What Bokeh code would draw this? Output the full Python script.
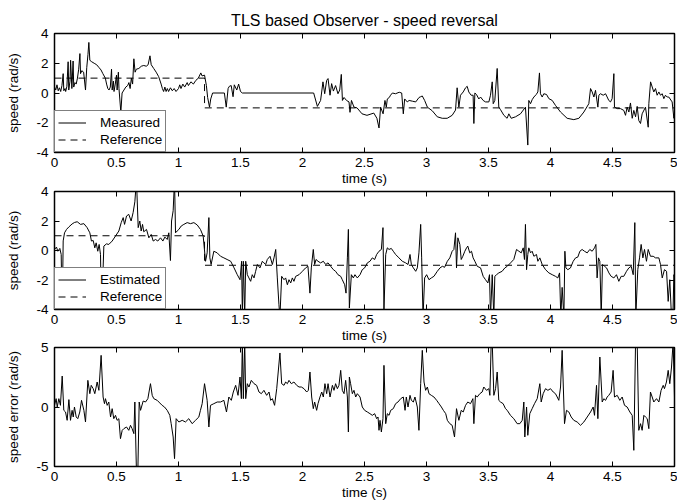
from bokeh.plotting import figure
from bokeh.layouts import column
from bokeh.models import (Range1d, LinearAxis, FixedTicker, NumeralTickFormatter, CustomJSTickFormatter,
                          Legend, LegendItem)
from bokeh.embed import file_html
from bokeh.resources import INLINE

FONT = "Liberation Sans"

title_text = "TLS based Observer - speed reversal"
x_label = "time (s)"
y_label_speed = "speed (rad/s)"
y_label_err = "speed error (rad/s)"
x_ticks = [0, 0.5, 1, 1.5, 2, 2.5, 3, 3.5, 4, 4.5, 5]
y_ticks_speed = [-4, -2, 0, 2, 4]
y_ticks_err = [-5, 0, 5]

# reference speed (step reversal)
ref_t = [0, 1.21, 1.21, 5]
ref_v = [1, 1, -1, -1]

# measured speed (t, rad/s)
measured = [
    (0.00, 0.40), (0.01, 0.20), (0.02, 0.55), (0.03, 0.15), (0.04, 0.35), (0.05, 0.10), (0.06, 0.50),
    (0.07, 1.30), (0.075, 0.15), (0.085, 0.30), (0.09, 0.10), (0.10, 0.45), (0.11, 2.10), (0.115, 0.20),
    (0.125, 0.80), (0.13, 2.20), (0.14, 0.30), (0.15, 2.15), (0.155, 0.40), (0.165, 0.70), (0.175, 0.60),
    (0.185, 1.00), (0.195, 1.60), (0.205, 2.65), (0.21, 1.30), (0.22, 1.50), (0.235, 1.40), (0.25, 0.20),
    (0.26, 1.70), (0.27, 2.60), (0.277, 3.40), (0.285, 2.20), (0.30, 2.10), (0.32, 2.00), (0.34, 1.90),
    (0.36, 1.70), (0.375, 1.55), (0.39, 1.30), (0.41, 1.00), (0.42, 0.60), (0.43, 0.30), (0.44, 0.20),
    (0.45, 0.40), (0.46, 1.60), (0.465, 0.20), (0.475, 0.80), (0.48, 0.10), (0.49, 0.60), (0.50, 1.20),
    (0.505, 0.20), (0.515, 1.40), (0.52, 0.30), (0.535, -1.30), (0.545, 0.00), (0.56, 0.20), (0.575, 0.40),
    (0.59, 0.50), (0.60, 0.70), (0.61, 0.30), (0.62, 1.00), (0.63, 0.60), (0.64, 2.30), (0.65, 1.40),
    (0.66, 1.60), (0.68, 1.65), (0.70, 1.80), (0.72, 1.85), (0.74, 1.80), (0.755, 1.90), (0.77, 2.50),
    (0.78, 1.90), (0.80, 1.65), (0.82, 1.40), (0.84, 1.10), (0.86, 0.60), (0.87, 0.30), (0.88, 0.10),
    (0.89, 0.40), (0.90, 0.10), (0.91, 0.30), (0.92, 0.10), (0.935, 0.35), (0.95, 0.15), (0.965, 0.30),
    (0.98, 0.10), (1.00, 0.30), (1.01, 0.55), (1.02, 0.30), (1.035, 0.60), (1.05, 0.40), (1.07, 0.70),
    (1.08, 0.50), (1.10, 0.75), (1.12, 0.60), (1.14, 0.85), (1.16, 1.00), (1.18, 1.35), (1.19, 1.15),
    (1.21, 1.20), (1.225, 0.50), (1.235, -0.30), (1.25, -0.95), (1.26, -0.40), (1.275, 0.00), (1.37, 0.00),
    (1.385, -0.95), (1.40, 0.30), (1.41, 0.45), (1.425, 0.50), (1.44, -0.25), (1.45, 0.55), (1.47, 0.20),
    (1.485, 0.60), (1.50, 0.10), (1.515, 0.00), (2.09, 0.00), (2.12, -0.90), (2.146, -0.50), (2.165, 0.75),
    (2.179, -0.05), (2.195, 0.85), (2.206, 0.97), (2.222, -0.15), (2.235, 0.63), (2.249, 0.13), (2.267, 0.50),
    (2.286, -0.05), (2.30, 0.20), (2.313, 1.25), (2.322, -0.50), (2.335, -0.30), (2.355, -0.50), (2.375, -0.60),
    (2.383, -1.30), (2.395, -0.50), (2.415, -0.95), (2.44, -1.00), (2.48, -1.40), (2.52, -1.50), (2.575, -1.35),
    (2.60, -1.70), (2.617, -2.35), (2.63, -0.95), (2.65, -1.40), (2.665, -0.50), (2.676, -0.95), (2.684, -0.40),
    (2.70, -0.30), (2.71, -0.15), (2.725, 0.00), (2.75, -0.05), (2.78, 0.05), (2.80, 0.00), (2.813, -1.40),
    (2.824, -0.40), (2.845, -0.60), (2.86, -0.50), (2.886, -0.55), (2.913, -0.60), (2.94, -0.30), (2.953, -0.25),
    (2.966, -0.20), (2.985, -0.50), (3.007, -0.95), (3.047, -1.20), (3.087, -1.60), (3.127, -1.70), (3.167, -1.70),
    (3.207, -1.50), (3.234, -1.15), (3.247, 0.35), (3.261, -0.95), (3.274, -0.15), (3.296, 0.07), (3.315, 0.35),
    (3.328, 0.45), (3.341, 0.07), (3.36, -0.15), (3.376, -0.15), (3.382, -2.05), (3.39, 0.00), (3.403, -0.10),
    (3.422, -0.40), (3.436, -0.27), (3.457, -0.50), (3.476, -0.60), (3.503, -0.60), (3.516, -0.15), (3.53, 0.75),
    (3.538, -0.72), (3.551, -0.50), (3.57, 1.65), (3.583, -0.95), (3.597, -1.12), (3.624, -1.50), (3.65, -1.70),
    (3.664, -1.40), (3.683, -1.70), (3.718, -1.60), (3.758, -1.40), (3.798, -0.95), (3.817, -3.50), (3.825, -0.50),
    (3.839, -0.72), (3.852, -0.45), (3.866, -0.27), (3.885, -0.10), (3.898, 0.07), (3.911, 1.35), (3.919, -0.05),
    (3.933, -0.27), (3.946, -0.05), (3.968, -0.10), (3.987, -0.38), (4.014, -0.50), (4.04, -0.83), (4.081, -1.28),
    (4.134, -1.70), (4.188, -1.79), (4.229, -1.70), (4.269, -1.28), (4.309, -0.72), (4.323, 0.30), (4.336, 0.07),
    (4.35, -0.27), (4.363, 0.18), (4.382, -0.95), (4.39, -0.15), (4.403, -0.05), (4.425, -0.15), (4.444, -0.05),
    (4.457, -0.27), (4.47, -0.50), (4.484, -0.60), (4.497, -0.38), (4.511, 1.30), (4.516, -0.95), (4.538, -1.05),
    (4.565, -1.05), (4.591, -1.17), (4.605, -1.50), (4.618, -0.95), (4.632, -1.28), (4.645, -0.67), (4.659, -1.70),
    (4.672, -1.17), (4.686, -1.60), (4.699, -0.90), (4.712, -1.85), (4.726, -2.05), (4.739, -1.40), (4.766, -0.95),
    (4.788, -2.30), (4.793, -0.72), (4.807, 0.75), (4.833, 0.07), (4.847, 0.30), (4.86, -0.15), (4.874, 0.07),
    (4.887, -0.15), (4.901, -0.05), (4.914, -0.38), (4.927, -0.15), (4.941, -0.27), (4.954, -0.27), (4.981, -0.60),
    (4.995, -1.70), (5.0, -1.40),
]

# estimated speed (t, rad/s)
estimated = [
    (0.0, 0.07), (0.016, 0.23), (0.027, -0.05), (0.043, 0.14), (0.054, -0.27), (0.062, -4.5), (0.07, 0.65),
    (0.081, 1.2), (0.097, 1.43), (0.116, 1.6), (0.142, 1.8), (0.161, 1.9), (0.183, 1.95), (0.21, 1.77),
    (0.237, 1.82), (0.263, 1.55), (0.285, 1.2), (0.298, 0.64), (0.312, 0.68), (0.325, 0.18), (0.336, 0.52),
    (0.349, -0.05), (0.36, 0.41), (0.371, -0.27), (0.379, -4.5), (0.398, 0.3), (0.419, 0.45), (0.438, 0.41),
    (0.465, 0.64), (0.492, 0.98), (0.519, 1.32), (0.538, 1.89), (0.554, 2.23), (0.565, 1.77), (0.581, 2.34),
    (0.599, 2.45), (0.618, 2.0), (0.634, 2.57), (0.648, 3.3), (0.661, 4.8), (0.675, 1.55), (0.688, 2.0),
    (0.699, 1.32), (0.71, 1.77), (0.72, 1.27), (0.742, 1.43), (0.761, 0.86), (0.78, 1.09), (0.796, 0.64),
    (0.815, 0.75), (0.833, 0.64), (0.855, 0.86), (0.874, 0.64), (0.89, 0.91), (0.909, 0.75), (0.922, 1.2),
    (0.935, -0.68), (0.944, 2.0), (0.957, 2.7), (0.968, 4.8), (0.976, 1.2), (0.989, 1.32), (1.003, 1.43),
    (1.022, 1.66), (1.043, 1.77), (1.07, 1.89), (1.097, 1.82), (1.124, 1.89), (1.151, 1.73), (1.177, 1.43),
    (1.199, 0.98), (1.218, -0.73), (1.231, -0.16), (1.245, 2.23), (1.253, -0.5), (1.263, -0.95), (1.285, -0.05),
    (1.312, -0.16), (1.339, -0.39), (1.366, -0.5), (1.392, -0.61), (1.421, -0.73), (1.448, -1.18), (1.474, -1.64),
    (1.496, -1.98), (1.509, -0.73), (1.515, -4.5), (1.523, -0.73), (1.534, -4.5), (1.542, -0.73), (1.555, -1.64),
    (1.568, -1.86), (1.582, -2.09), (1.595, -1.64), (1.609, -1.86), (1.622, -1.41), (1.636, -0.95), (1.657, -1.18),
    (1.676, -0.73), (1.689, -0.84), (1.703, -0.95), (1.716, -0.61), (1.738, -0.39), (1.757, -0.95), (1.77, -0.5),
    (1.784, 0.07), (1.797, -1.86), (1.81, -3.68), (1.818, -4.5), (1.832, -1.75), (1.851, -1.98), (1.864, -1.86),
    (1.878, -2.32), (1.891, -1.98), (1.905, -2.2), (1.918, -1.86), (1.931, -2.09), (1.945, -1.75), (1.972, -1.64),
    (1.999, -1.41), (2.025, -1.18), (2.044, -1.07), (2.06, -2.89), (2.071, -1.18), (2.087, 0.07), (2.098, -0.95),
    (2.109, -0.61), (2.125, -0.73), (2.146, -0.84), (2.168, -0.73), (2.187, -0.95), (2.206, -0.84), (2.227, -1.07),
    (2.249, -1.3), (2.267, -1.41), (2.286, -1.64), (2.308, -1.75), (2.321, -1.98), (2.34, -2.32), (2.351, -2.89),
    (2.362, -0.5), (2.37, 1.43), (2.378, -3.9), (2.394, -1.64), (2.41, -1.86), (2.423, -1.64), (2.442, -1.86),
    (2.464, -1.64), (2.482, -1.3), (2.501, -1.18), (2.523, -0.84), (2.544, -0.73), (2.563, -0.5), (2.582, -0.61),
    (2.598, -0.27), (2.617, -0.05), (2.636, 0.07), (2.649, 1.55), (2.657, -4.0), (2.671, -0.27), (2.684, 0.18),
    (2.698, 0.07), (2.716, 0.14), (2.732, -0.05), (2.751, -0.27), (2.778, -0.5), (2.805, -0.73), (2.832, -0.84),
    (2.851, -0.95), (2.867, -0.27), (2.878, -0.95), (2.894, -1.18), (2.913, -1.41), (2.926, -1.18), (2.939, -0.16),
    (2.953, 1.77), (2.961, -0.5), (2.972, -4.5), (2.985, -1.86), (3.001, -1.64), (3.02, -1.98), (3.039, -1.86),
    (3.06, -1.75), (3.087, -1.41), (3.109, -1.18), (3.128, -1.07), (3.146, -1.14), (3.168, -0.73), (3.188, -0.5),
    (3.207, -0.05), (3.221, 0.07), (3.234, 1.2), (3.242, -1.18), (3.253, 0.86), (3.269, 0.41), (3.28, -0.61),
    (3.293, -0.39), (3.309, -0.05), (3.323, 0.18), (3.333, 0.3), (3.349, -0.16), (3.363, -0.05), (3.376, -0.5),
    (3.39, -0.73), (3.409, -1.07), (3.436, -1.18), (3.457, -1.75), (3.476, -1.98), (3.495, -2.2), (3.508, -1.64),
    (3.516, -4.5), (3.53, -1.64), (3.543, -4.5), (3.551, -1.75), (3.565, -1.64), (3.583, -1.52), (3.61, -1.41),
    (3.632, -1.18), (3.651, -1.07), (3.678, -0.84), (3.704, -0.61), (3.726, 0.07), (3.745, -0.05), (3.764, -0.16),
    (3.78, 0.18), (3.79, -0.61), (3.798, 1.77), (3.807, -1.3), (3.817, -0.27), (3.825, 0.18), (3.839, -0.16),
    (3.852, -0.05), (3.866, -0.39), (3.887, -0.27), (3.898, -0.73), (3.914, -0.5), (3.933, -0.95), (3.96, -1.3),
    (3.987, -1.52), (4.014, -1.64), (4.04, -1.75), (4.059, -1.86), (4.073, -1.52), (4.083, -4.5), (4.094, -2.5),
    (4.108, -4.5), (4.116, -0.05), (4.124, -1.18), (4.14, -1.3), (4.161, -1.18), (4.183, -0.73), (4.202, -0.5),
    (4.22, -0.45), (4.237, -0.05), (4.255, 0.07), (4.274, -0.05), (4.296, -0.16), (4.317, 0.07), (4.336, -0.05),
    (4.355, 0.18), (4.366, 0.41), (4.376, -1.86), (4.387, -0.5), (4.398, -0.73), (4.409, -4.5), (4.419, -0.95),
    (4.436, -1.07), (4.452, -1.18), (4.471, -1.52), (4.489, -1.75), (4.511, -1.86), (4.532, -1.64), (4.551, -2.09),
    (4.57, -1.75), (4.591, -1.75), (4.613, -1.41), (4.632, -1.18), (4.651, -1.07), (4.667, -1.64), (4.68, 1.89),
    (4.688, -4.5), (4.704, -1.3), (4.718, -0.5), (4.731, 0.41), (4.745, -0.5), (4.758, 0.07), (4.774, -0.73),
    (4.788, 0.07), (4.806, -0.39), (4.828, -0.39), (4.847, -0.5), (4.874, -0.5), (4.887, -0.95), (4.901, -1.86),
    (4.919, -1.3), (4.936, -1.41), (4.949, -3.45), (4.962, -1.98), (4.973, -4.0), (4.987, -4.5), (4.995, -1.64),
    (5.0, -1.86),
]

# speed estimation error (t, rad/s)
speed_error = [
    (0.0, 0.14), (0.013, 0.7), (0.022, 0.0), (0.035, 0.7), (0.048, 0.14), (0.062, 2.6), (0.075, -0.28),
    (0.089, -0.42), (0.102, -1.12), (0.116, 0.62), (0.129, -1.12), (0.142, -0.28), (0.151, -0.84), (0.161, 0.0),
    (0.175, -0.84), (0.188, -0.98), (0.204, -0.42), (0.218, 0.56), (0.237, -0.28), (0.25, -1.26), (0.269, 2.24),
    (0.285, 1.12), (0.296, 1.82), (0.312, 1.54), (0.325, 1.12), (0.344, 2.1), (0.358, 1.4), (0.376, 4.34),
    (0.392, 0.84), (0.403, 0.28), (0.411, 0.7), (0.425, 0.14), (0.438, 0.42), (0.452, -0.84), (0.465, -0.14),
    (0.478, -0.98), (0.492, -0.7), (0.505, -1.12), (0.519, -0.98), (0.532, -2.66), (0.546, -1.96), (0.559, -1.82),
    (0.581, -1.68), (0.599, -1.96), (0.613, -1.54), (0.626, -1.82), (0.64, -2.24), (0.648, 0.42), (0.661, -5.5),
    (0.672, -5.5), (0.683, 0.42), (0.694, -0.28), (0.715, 0.5), (0.734, 0.42), (0.753, 0.7), (0.774, 1.96),
    (0.788, 0.98), (0.801, 0.7), (0.828, 0.56), (0.849, 0.34), (0.868, 0.14), (0.887, 0.0), (0.909, -0.28),
    (0.93, -0.7), (0.941, -1.4), (0.957, -2.52), (0.968, -4.34), (0.981, -0.98), (1.003, -1.26), (1.03, -1.12),
    (1.056, -1.26), (1.083, -0.98), (1.11, -1.4), (1.137, -1.12), (1.164, -0.84), (1.177, -0.28), (1.191, 0.28),
    (1.21, 1.96), (1.231, 0.56), (1.245, -1.68), (1.258, 0.14), (1.285, 0.28), (1.312, 0.42), (1.339, 0.42),
    (1.366, 0.56), (1.387, -0.42), (1.406, 0.84), (1.426, 0.56), (1.442, 1.26), (1.461, 1.82), (1.48, 0.98),
    (1.496, 2.52), (1.507, 0.7), (1.515, 5.5), (1.523, 0.7), (1.534, 5.5), (1.542, 0.7), (1.555, 1.96),
    (1.568, 1.68), (1.587, 2.24), (1.609, 1.96), (1.63, 1.82), (1.649, 1.26), (1.668, 1.12), (1.689, 1.4),
    (1.711, 0.98), (1.73, 1.26), (1.743, 0.56), (1.757, 0.7), (1.775, 0.14), (1.792, 1.54), (1.818, 4.54),
    (1.832, 1.96), (1.851, 1.82), (1.864, 2.1), (1.878, 1.96), (1.891, 2.24), (1.91, 1.96), (1.931, 2.1),
    (1.953, 1.82), (1.972, 1.68), (1.991, 1.68), (2.012, 1.54), (2.034, 1.26), (2.047, 1.4), (2.06, 2.94),
    (2.074, 0.84), (2.087, -0.14), (2.098, 0.42), (2.114, -0.28), (2.125, 0.28), (2.141, 0.84), (2.155, 1.26),
    (2.168, 0.84), (2.181, 1.96), (2.195, 1.12), (2.206, 1.96), (2.222, 0.84), (2.241, 1.82), (2.254, 1.4),
    (2.267, 1.96), (2.281, 1.54), (2.294, 1.82), (2.308, 3.08), (2.321, 1.4), (2.335, 1.12), (2.348, 2.24),
    (2.362, 0.84), (2.37, -2.1), (2.378, 2.52), (2.388, 1.96), (2.402, 1.12), (2.415, 1.4), (2.429, 0.84),
    (2.442, 1.12), (2.464, 0.84), (2.482, 0.0), (2.501, -0.28), (2.523, -0.42), (2.544, -0.56), (2.563, -0.7),
    (2.582, -0.56), (2.598, -0.98), (2.609, -0.84), (2.617, -1.96), (2.625, -1.12), (2.636, -2.1), (2.649, -0.98),
    (2.657, 3.5), (2.671, -1.4), (2.684, -0.56), (2.698, -0.7), (2.711, -0.28), (2.732, -0.14), (2.751, 0.28),
    (2.77, 0.42), (2.792, 0.7), (2.813, 0.84), (2.827, -0.28), (2.837, 0.84), (2.851, 0.0), (2.867, 0.98),
    (2.878, 0.56), (2.894, 0.42), (2.907, 0.84), (2.926, 0.0), (2.939, -1.96), (2.953, 1.96), (2.966, 4.76),
    (2.98, 2.1), (2.993, 1.4), (3.007, 1.68), (3.02, 1.12), (3.039, 0.98), (3.06, 0.84), (3.082, 0.56),
    (3.101, 0.28), (3.12, 0.0), (3.136, -0.28), (3.155, -0.56), (3.168, -1.12), (3.188, -1.4), (3.207, -1.54),
    (3.226, -2.52), (3.242, -0.14), (3.261, -1.12), (3.28, -0.28), (3.296, -0.42), (3.315, 0.14), (3.333, 0.42),
    (3.355, 0.28), (3.374, 0.7), (3.382, -1.4), (3.395, 0.98), (3.409, 0.84), (3.43, 1.12), (3.449, 1.26),
    (3.462, 1.68), (3.484, 1.4), (3.503, 1.54), (3.511, 0.98), (3.522, 5.5), (3.53, 5.5), (3.543, 0.98),
    (3.557, 1.54), (3.57, 2.94), (3.583, 0.56), (3.597, 0.42), (3.618, 0.28), (3.637, -0.14), (3.651, -0.28),
    (3.677, -0.7), (3.704, -0.98), (3.731, -1.4), (3.753, -1.4), (3.772, -1.12), (3.785, 0.42), (3.793, -2.52),
    (3.807, 0.0), (3.817, -2.38), (3.833, -0.56), (3.852, -0.14), (3.871, 0.28), (3.893, 0.7), (3.914, 1.96),
    (3.925, 0.42), (3.941, 1.12), (3.96, 1.54), (3.979, 1.4), (4.0, 1.54), (4.022, 1.26), (4.04, 1.12),
    (4.054, 0.84), (4.067, 0.56), (4.081, 1.68), (4.094, 4.76), (4.113, -1.4), (4.129, -0.28), (4.148, -0.42),
    (4.167, -0.84), (4.188, -1.12), (4.215, -1.26), (4.242, -1.54), (4.269, -1.26), (4.296, -0.84), (4.323, -0.42),
    (4.344, 0.0), (4.355, -0.7), (4.371, 1.82), (4.382, -0.98), (4.398, 4.2), (4.417, 0.42), (4.43, 0.7),
    (4.444, 0.56), (4.457, 0.84), (4.47, 0.98), (4.489, 1.26), (4.505, 3.08), (4.516, 0.84), (4.538, 0.98),
    (4.559, 0.56), (4.578, 0.84), (4.597, 0.14), (4.618, 0.0), (4.64, -0.42), (4.659, -0.7), (4.672, -3.64),
    (4.686, 5.5), (4.699, 5.5), (4.712, -1.96), (4.726, -1.4), (4.739, -1.96), (4.753, -0.7), (4.766, -0.84),
    (4.78, -0.98), (4.793, -1.82), (4.806, 1.26), (4.82, 0.84), (4.833, 0.42), (4.855, 0.7), (4.874, 0.42),
    (4.892, 1.4), (4.909, 1.82), (4.919, 1.54), (4.935, 2.1), (4.949, 3.08), (4.962, 1.96), (4.976, 3.36),
    (4.989, 5.5), (5.0, 0.84),
]

meas_t, meas_v = [list(a) for a in zip(*measured)]
est_t, est_v = [list(a) for a in zip(*estimated)]
err_t, err_v = [list(a) for a in zip(*speed_error)]

FS = "13.5px"


def style_axis(ax, ticks, show_labels, standoff=4):
    ax.ticker = FixedTicker(ticks=ticks)
    ax.major_tick_in = 5
    ax.major_tick_out = 0
    ax.minor_tick_line_color = None
    ax.major_tick_line_color = "black"
    ax.major_tick_line_width = 1
    ax.axis_line_color = None
    ax.major_label_text_font = FONT
    ax.major_label_text_color = "black"
    if show_labels:
        ax.formatter = NumeralTickFormatter(format="0.[0]")
        ax.major_label_text_font_size = FS
        ax.major_label_standoff = standoff
    else:
        ax.formatter = CustomJSTickFormatter(code="return ''")
        ax.major_label_text_font_size = "0px"
        ax.major_label_standoff = 0
    ax.axis_label_text_font = FONT
    ax.axis_label_text_font_size = FS
    ax.axis_label_text_font_style = "normal"
    ax.axis_label_text_color = "black"


def make_fig(height, top, bottom, yr, yticks, ylabel, title=None, margin=None):
    p = figure(width=677, height=height, x_range=Range1d(0, 5), y_range=Range1d(yr[0], yr[1]),
               output_backend="svg", toolbar_location=None,
               min_border_left=54, min_border_right=3, min_border_top=top, min_border_bottom=bottom,
               x_axis_type=None, y_axis_type=None)
    if margin is not None:
        p.margin = margin
    p.outline_line_color = "black"
    p.outline_line_width = 1.5
    p.outline_line_alpha = 1
    p.background_fill_color = "white"
    p.border_fill_alpha = 0

    xb = LinearAxis(axis_label=x_label)
    style_axis(xb, x_ticks, True, 5)
    xb.axis_label_standoff = 1
    p.add_layout(xb, "below")
    yl = LinearAxis(axis_label=ylabel)
    style_axis(yl, yticks, True, 6)
    yl.axis_label_standoff = 12
    p.add_layout(yl, "left")
    xa = LinearAxis()
    style_axis(xa, x_ticks, False)
    p.add_layout(xa, "above")
    yr_ax = LinearAxis()
    style_axis(yr_ax, yticks, False)
    p.add_layout(yr_ax, "right")

    if title:
        p.title.text = title
        p.title.align = "center"
        p.title.text_font = FONT
        p.title.text_font_size = "16px"
        p.title.text_font_style = "normal"
        p.title.text_color = "black"
        p.title.standoff = 10
    return p


def add_legend(p, items):
    leg = Legend(items=items, location="bottom_left", margin=0, padding=3, spacing=0,
                 label_height=17, glyph_height=17, glyph_width=28, label_standoff=14,
                 label_text_font=FONT, label_text_font_size=FS, label_text_color="black",
                 border_line_color="black", border_line_width=1,
                 background_fill_color="white", background_fill_alpha=1)
    p.add_layout(leg)


p1 = make_fig(189, 33, 37, (-4, 4), y_ticks_speed, y_label_speed, title_text)
r1 = p1.line(meas_t, meas_v, line_color="black", line_width=1)
r1r = p1.line(ref_t, ref_v, line_color="black", line_width=1, line_dash="7 5")
add_legend(p1, [LegendItem(label="Measured", renderers=[r1]), LegendItem(label="Reference", renderers=[r1r])])

p2 = make_fig(163, 8, 37, (-4, 4), y_ticks_speed, y_label_speed, margin=(-6, 0, 0, 0))
r2 = p2.line(est_t, est_v, line_color="black", line_width=1)
r2r = p2.line(ref_t, ref_v, line_color="black", line_width=1, line_dash="7 5")
add_legend(p2, [LegendItem(label="Estimated", renderers=[r2]), LegendItem(label="Reference", renderers=[r2r])])

p3 = make_fig(164, 8, 37, (-5, 5), y_ticks_err, y_label_err, margin=(-7, 0, 0, 0))
p3.line(err_t, err_v, line_color="black", line_width=1)

layout = column(p1, p2, p3, spacing=0)
open("out.html", "w").write(file_html(layout, INLINE))
